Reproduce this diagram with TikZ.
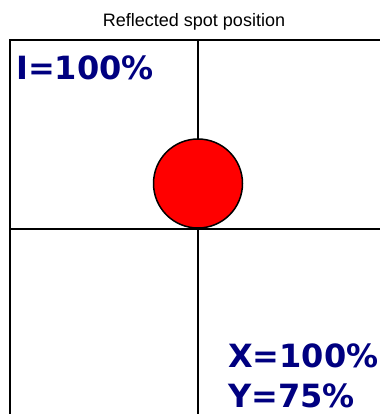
\documentclass[tikz,border=0pt]{standalone}
\usepackage{fontspec}
\newfontfamily\titlefont{Liberation Sans}
\newfontfamily\labfont{DejaVu Sans}
\definecolor{labblue}{RGB}{0,0,128}
\tikzset{
  grid line/.style={line width=2pt, black},
  title text/.style={font=\titlefont\fontsize{18}{20}\selectfont, inner sep=0pt, anchor=base},
  val text/.style={font=\labfont\bfseries\fontsize{32}{36}\selectfont, text=labblue, inner sep=0pt, anchor=base west},
  spot/.style={fill=red, draw=black, line width=1.5pt}
}
\begin{document}
\begin{tikzpicture}[x=1pt,y=-1pt]
\useasboundingbox (0,0) rectangle (380,414);
\node[title text] (title) at (194,26.7) {Reflected spot position};
\coordinate (tl) at (9.5,40);
\coordinate (tr) at (380,40);
\coordinate (bl) at (9.5,414);
\coordinate (vt) at (198,40);
\coordinate (vb) at (198,414);
\coordinate (hl) at (9.5,228.5);
\coordinate (hr) at (380,228.5);
\draw[grid line] (bl) -- (tl) -- (tr);
\draw[grid line] (vt) -- (vb);
\draw[grid line] (hl) -- (hr);
\node[spot, circle, minimum size=89pt, inner sep=0pt] (dot) at (198,183.5) {};
\node[val text] (ival) at (16,80) {I=100\%};
\node[val text] (xval) at (228,367) {X=100\%};
\node[val text] (yval) at (228,407) {Y=75\%};
\end{tikzpicture}
\end{document}
